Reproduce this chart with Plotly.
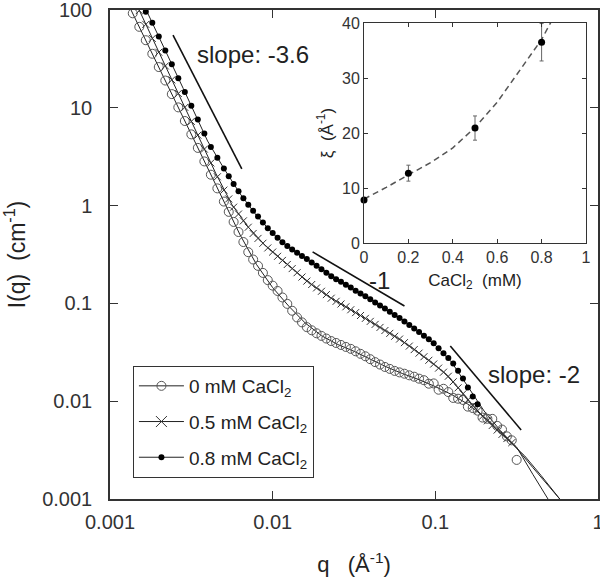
import plotly.graph_objects as go

# ---------------- main panel data ----------------
q = [0.001380, 0.001514, 0.001660, 0.001820, 0.001995, 0.002188, 0.002399, 0.002630,
     0.002884, 0.003162, 0.003467, 0.003802, 0.004169, 0.004571, 0.005012, 0.005370,
     0.005754, 0.006166, 0.006607, 0.007079, 0.007586, 0.008128, 0.008710, 0.009333,
     0.01000, 0.01072, 0.01148, 0.01230, 0.01318, 0.01413, 0.01514, 0.01622,
     0.01738, 0.01862, 0.01995, 0.02138, 0.02291, 0.02455, 0.02630, 0.02818,
     0.03020, 0.03236, 0.03467, 0.03715, 0.03981, 0.04266, 0.04571, 0.04898,
     0.05248, 0.05623, 0.06026, 0.06457, 0.06918, 0.07413, 0.07943, 0.08511,
     0.09120, 0.09772, 0.1047, 0.1122, 0.1202, 0.1288, 0.1380, 0.1479,
     0.1585, 0.1698, 0.1820, 0.1950, 0.2089, 0.2239, 0.2399, 0.2570,
     0.2754, 0.2951, 0.3162]

I_0mM = [92.5, 67.3, 49.1, 35.7, 26.1, 19.0, 13.8, 10.1,
         7.33, 5.35, 3.89, 2.83, 2.07, 1.50, 1.10, 0.863,
         0.681, 0.537, 0.424, 0.334, 0.281, 0.242, 0.205, 0.173,
         0.152, 0.134, 0.115, 0.0989, 0.0841, 0.0718, 0.0640, 0.0572,
         0.0531, 0.0495, 0.0465, 0.0437, 0.0412, 0.0394, 0.0376, 0.0359,
         0.0343, 0.0324, 0.0305, 0.0288, 0.0269, 0.0251, 0.0237, 0.0224,
         0.0214, 0.0204, 0.0197, 0.0191, 0.0184, 0.0178, 0.0170, 0.0164,
         0.0151, 0.0152, 0.0131, 0.0134, 0.0124, 0.0108, 0.0106, 0.0103,
         0.00880, 0.00851, 0.00800, 0.00680, 0.00661, 0.00660, 0.00560, 0.00513,
         0.00437, 0.00398, 0.00251]

I_05mM = [137, 98.6, 71.3, 51.2, 37.0, 26.8, 19.3, 14.0,
          10.1, 7.26, 5.25, 3.78, 2.73, 1.97, 1.44, 1.17,
          0.964, 0.820, 0.698, 0.601, 0.519, 0.462, 0.412, 0.369,
          0.335, 0.303, 0.275, 0.250, 0.227, 0.206, 0.186, 0.169,
          0.156, 0.144, 0.133, 0.123, 0.113, 0.105, 0.0986, 0.0923,
          0.0861, 0.0805, 0.0752, 0.0703, 0.0655, 0.0610, 0.0568, 0.0528,
          0.0494, 0.0461, 0.0432, 0.0397, 0.0366, 0.0337, 0.0310, 0.0285,
          0.0262, 0.0240, 0.0218, 0.0198, 0.0180, 0.0158, 0.0137, 0.0119,
          0.0103, 0.00908, 0.00798, 0.00702, 0.00630, 0.00565, 0.00507, 0.00458,
          0.00415, 0.00377, None]

I_08mM = [None, None, 96.0, 74.1, 53.5, 38.6, 27.9, 20.1,
          14.5, 10.5, 7.57, 5.46, 3.98, 3.08, 2.39, 1.99,
          1.66, 1.40, 1.19, 1.02, 0.887, 0.773, 0.673, 0.587,
          0.525, 0.468, 0.423, 0.387, 0.355, 0.329, 0.305, 0.284,
          0.262, 0.242, 0.223, 0.206, 0.190, 0.177, 0.166, 0.155,
          0.145, 0.135, 0.126, 0.118, 0.110, 0.102, 0.0953, 0.0885,
          0.0820, 0.0762, 0.0708, 0.0652, 0.0601, 0.0553, 0.0509, 0.0468,
          0.0430, 0.0391, 0.0348, 0.0310, 0.0276, 0.0243, 0.0205, 0.0171,
          0.0138, 0.0112, 0.00933, None, None, None, None, None,
          None, None, None]

# fitted curves (thin lines)
fit_q_0mM = [0.001259, 0.001995, 0.003162, 0.005012, 0.006310, 0.007943, 0.01, 0.01259,
             0.01585, 0.01995, 0.02512, 0.03162, 0.03981, 0.05012, 0.06310, 0.07943,
             0.1, 0.1259, 0.1585, 0.1995, 0.2512, 0.3162, 0.3981, 0.5012]
fit_I_0mM = [126, 25.7, 5.37, 1.10, 0.501, 0.251, 0.145, 0.0933,
             0.0631, 0.0468, 0.0380, 0.0324, 0.0269, 0.0224, 0.0191, 0.0166,
             0.0141, 0.0117, 0.00933, 0.00692, 0.00490, 0.00339, 0.00178, 0.000955]

fit_q_05mM = [0.001380, 0.001995, 0.003162, 0.004467, 0.005623, 0.007079, 0.008913, 0.01122,
              0.01413, 0.01778, 0.02239, 0.02818, 0.03548, 0.04467, 0.05623, 0.07079,
              0.08913, 0.1122, 0.1413, 0.1778, 0.2239, 0.2818, 0.3548, 0.4467, 0.5888]
fit_I_05mM = [138, 37.2, 7.24, 2.14, 1.02, 0.603, 0.398, 0.285,
              0.207, 0.151, 0.116, 0.0923, 0.0733, 0.0582, 0.0462, 0.0359,
              0.0269, 0.0200, 0.0132, 0.00832, 0.00562, 0.00398, 0.00275, 0.00174, 0.000977]

fit_q_08mM = [0.001585, 0.001995, 0.002818, 0.003981, 0.005012, 0.006310, 0.007943, 0.01,
              0.01259, 0.01585, 0.01995, 0.02512, 0.03162, 0.03981, 0.05012, 0.06310,
              0.07943, 0.1, 0.1259, 0.1585, 0.1995, 0.2512, 0.3162, 0.3981, 0.5012, 0.5888]
fit_I_08mM = [120, 53.7, 15.8, 4.57, 2.40, 1.32, 0.794, 0.519,
              0.372, 0.288, 0.224, 0.174, 0.138, 0.110, 0.0871, 0.0676,
              0.0513, 0.0372, 0.0251, 0.0141, 0.00794, 0.00501, 0.00331, 0.00209, 0.00135, 0.000977]

# slope guide segments
guide1_q = [0.00244, 0.00646]
guide1_I = [55.5, 2.37]
guide2_q = [0.0176, 0.0646]
guide2_I = [0.336, 0.094]
guide3_q = [0.1236, 0.337]
guide3_I = [0.0367, 0.00508]

x_ticks = [0.001, 0.01, 0.1, 1]
x_ticktext = ["0.001", "0.01", "0.1", "1"]
y_ticks = [0.001, 0.01, 0.1, 1, 10, 100]
y_ticktext = ["0.001", "0.01", "0.1", "1", "10", "100"]

legend_names = ["0 mM CaCl<sub>2</sub>", "0.5 mM CaCl<sub>2</sub>", "0.8 mM CaCl<sub>2</sub>"]

# ---------------- inset data ----------------
cacl2 = [0, 0.2, 0.5, 0.8]
xi = [7.8, 12.7, 20.9, 36.5]
xi_err = [0.3, 1.45, 2.2, 3.4]
curve_c = [0, 0.1, 0.2, 0.3, 0.4, 0.5, 0.6, 0.7, 0.8, 0.86]
curve_xi = [8.0, 10.1, 12.4, 14.6, 17.3, 21.0, 25.6, 31.2, 37.0, 41.5]
inset_xticks = [0, 0.2, 0.4, 0.6, 0.8, 1]
inset_yticks = [0, 10, 20, 30, 40]

FONT = "Liberation Sans, Arial, Helvetica, sans-serif"
AX = "#333333"

fig = go.Figure()

for fq, fI in [(fit_q_0mM, fit_I_0mM), (fit_q_05mM, fit_I_05mM), (fit_q_08mM, fit_I_08mM)]:
    fig.add_trace(go.Scatter(x=fq, y=fI, mode="lines", line=dict(color="#222", width=1),
                             showlegend=False, hoverinfo="skip"))

fig.add_trace(go.Scatter(x=q, y=I_0mM, mode="markers", showlegend=False,
                         marker=dict(symbol="circle-open", size=9, color="#555",
                                     line=dict(width=1, color="#555"))))
fig.add_trace(go.Scatter(x=q, y=I_05mM, mode="markers", showlegend=False,
                         marker=dict(symbol="x-thin-open", size=7, color="#333",
                                     line=dict(width=1, color="#333"))))
fig.add_trace(go.Scatter(x=q, y=I_08mM, mode="markers", showlegend=False,
                         marker=dict(symbol="circle", size=6, color="#000")))

for gq, gI in [(guide1_q, guide1_I), (guide2_q, guide2_I), (guide3_q, guide3_I)]:
    fig.add_trace(go.Scatter(x=gq, y=gI, mode="lines", line=dict(color="#111", width=1.6),
                             showlegend=False, hoverinfo="skip"))

# legend entries (line + marker)
leg_markers = [dict(symbol="circle-open", size=9, color="#555", line=dict(width=1, color="#555")),
               dict(symbol="x-thin-open", size=11, color="#333", line=dict(width=1, color="#333")),
               dict(symbol="circle", size=6, color="#000")]
for i, (nm, mk) in enumerate(zip(legend_names, leg_markers)):
    fig.add_trace(go.Scatter(x=[None], y=[None], mode="lines+markers", name=nm,
                             legendgroup="g%d" % i,
                             line=dict(color="#222", width=1), marker=mk))

# inset
fig.add_trace(go.Scatter(x=curve_c, y=curve_xi, mode="lines", xaxis="x2", yaxis="y2",
                         line=dict(color="#555", width=1.5, dash="6px,4px"),
                         showlegend=False, hoverinfo="skip"))
fig.add_trace(go.Scatter(x=cacl2, y=xi, mode="markers", xaxis="x2", yaxis="y2",
                         marker=dict(symbol="circle", size=7, color="#000"),
                         error_y=dict(type="data", array=xi_err, visible=True,
                                      color="#666", thickness=1, width=2),
                         cliponaxis=False, showlegend=False))

axis_common = dict(showline=True, linecolor=AX, linewidth=1.5, mirror="allticks",
                   ticks="inside", tickcolor=AX, showgrid=False, zeroline=False,
                   automargin=False, ticklabeloverflow="allow")

fig.update_layout(
    width=600, height=577,
    margin=dict(l=110, r=2, t=10, b=78),
    paper_bgcolor="white", plot_bgcolor="white",
    font=dict(family=FONT, color="#222"),
    xaxis=dict(type="log", range=[-3, 0], tickvals=x_ticks, ticktext=x_ticktext,
               ticklen=8, tickwidth=1.2, tickfont=dict(size=20, color=AX),
               ticklabelstandoff=4,
               title=dict(text="q   (Å<sup>-1</sup>)", font=dict(size=22, color="#222"), standoff=26),
               **axis_common),
    yaxis=dict(type="log", range=[-3, 2], tickvals=y_ticks, ticktext=y_ticktext,
               ticklen=8, tickwidth=1.2, tickfont=dict(size=20, color=AX),
               ticklabelstandoff=12,
               title=dict(text="I(q)  (cm<sup>-1</sup>)", font=dict(size=23, color="#222"), standoff=10),
               **axis_common),
    xaxis2=dict(domain=[0.5205, 0.9754], anchor="y2", range=[0, 1], tickvals=inset_xticks,
                ticktext=["0", "0.2", "0.4", "0.6", "0.8", "1"],
                ticklen=4, tickwidth=1, tickfont=dict(size=16, color=AX),
                title=dict(text="CaCl<sub>2</sub>  (mM)", font=dict(size=17, color="#222"), standoff=8),
                **{**axis_common, "linewidth": 1}),
    yaxis2=dict(domain=[0.5235, 0.9734], anchor="x2", range=[0, 40], tickvals=inset_yticks,
                ticklen=4, tickwidth=1, tickfont=dict(size=16, color=AX),
                title=dict(text="ξ  (Å<sup>-1</sup>)", font=dict(size=17, color="#222"), standoff=4),
                **{**axis_common, "linewidth": 1}),
    legend=dict(x=0.047, y=0.272, xanchor="left", yanchor="top",
                bgcolor="white", bordercolor=AX, borderwidth=1,
                font=dict(size=19, color="#222"), tracegroupgap=8, itemwidth=45),
    annotations=[
        dict(text="slope: -3.6", xref="paper", yref="paper", x=0.293, y=0.91,
             xanchor="center", yanchor="middle",
             showarrow=False, font=dict(size=24, color="#222")),
        dict(text="-1", xref="paper", yref="paper", x=0.553, y=0.446,
             xanchor="center", yanchor="middle",
             showarrow=False, font=dict(size=24, color="#222")),
        dict(text="slope: -2", xref="paper", yref="paper", x=0.869, y=0.2536,
             xanchor="center", yanchor="middle",
             showarrow=False, font=dict(size=24, color="#222")),
    ],
)

fig.write_html("out.html", config={"displayModeBar": False},
               post_script="document.body.style.margin='0px';document.body.style.padding='0px';")
